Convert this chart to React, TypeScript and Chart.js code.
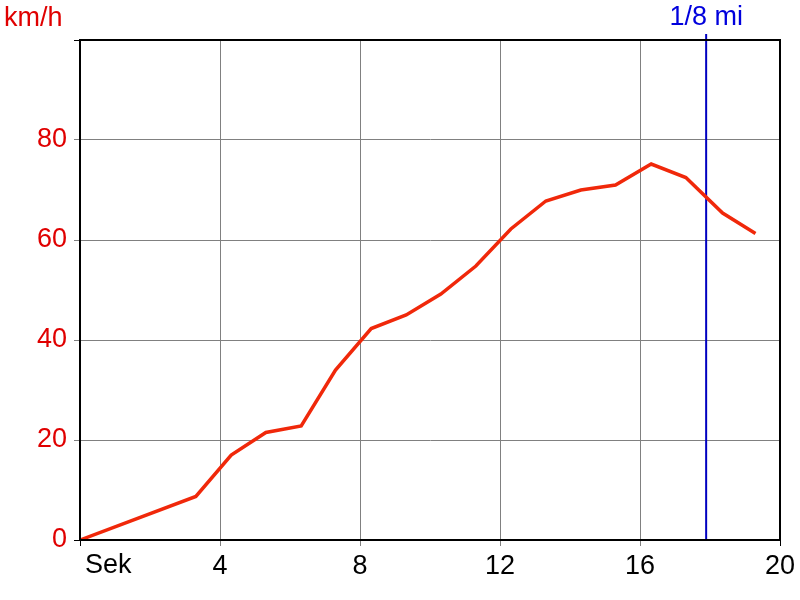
import React, { useEffect, useRef } from "react";
import { Chart, registerables } from "chart.js";

Chart.register(...registerables);

const seconds = [0, 3.31, 4.32, 5.31, 6.32, 7.3, 8.32, 9.32, 10.31, 11.31, 12.31, 13.31, 14.31, 15.3, 16.32, 17.31, 18.36, 19.3];
const speedKmh = [0, 8.7, 17, 21.5, 22.8, 34, 42.3, 45, 49.2, 54.8, 62.2, 67.8, 70, 71, 75.2, 72.5, 65.4, 61.3];
const eighthMileTime = 17.89;
const eighthMileLabel = "1/8 mi";
const yTicks = [0, 20, 40, 60, 80];
const xTicks = [0, 4, 8, 12, 16, 20];
const yUnit = "km/h";
const xUnit = "Sek";

const FONT = "'Liberation Sans', Arial, sans-serif";
const FS = 27;

export default function App() {
  const ref = useRef<HTMLCanvasElement>(null);
  useEffect(() => {
    document.body.style.margin = "0";
    const canvas = ref.current!;
    const overlay = {
      id: "overlay",
      afterDraw(chart: any) {
        const { ctx, chartArea, scales } = chart;
        ctx.save();
        ctx.strokeStyle = "#000";
        ctx.lineWidth = 2;
        ctx.strokeRect(chartArea.left, chartArea.top, chartArea.right - chartArea.left, chartArea.bottom - chartArea.top);
        ctx.font = `${FS}px ${FONT}`;
        ctx.textBaseline = "middle";
        ctx.fillStyle = "#e00000";
        ctx.textAlign = "left";
        ctx.fillText(yUnit, 4, 19);
        ctx.fillStyle = "#000";
        ctx.fillText(xUnit, scales.x.getPixelForValue(0) + 5, 566);
        ctx.fillStyle = "#0000dd";
        ctx.textAlign = "center";
        ctx.fillText(eighthMileLabel, scales.x.getPixelForValue(eighthMileTime), 18);
        ctx.restore();
      },
    };
    const chart = new Chart(canvas, {
      type: "scatter",
      data: {
        datasets: [
          {
            data: seconds.map((s, i) => ({ x: s, y: speedKmh[i] })),
            showLine: true,
            borderColor: "rgb(240,40,10)",
            borderWidth: 3.5,
            pointRadius: 0,
            borderJoinStyle: "miter",
            order: 1,
          },
          {
            data: [
              { x: eighthMileTime, y: 0 },
              { x: eighthMileTime, y: 101.2 },
            ],
            showLine: true,
            borderColor: "#0000c0",
            borderWidth: 2,
            pointRadius: 0,
            clip: false,
            order: 2,
          },
        ],
      },
      options: {
        animation: false,
        responsive: false,
        events: [],
        layout: { padding: { left: 0, top: 40, right: 20, bottom: 0 } },
        plugins: { legend: { display: false }, tooltip: { enabled: false } },
        scales: {
          x: {
            type: "linear",
            min: 0,
            max: 20,
            afterFit: (s: any) => { s.height = 60; },
            afterBuildTicks: (s: any) => { s.ticks = xTicks.map((v) => ({ value: v })); },
            grid: {
              color: (c: any) => (c.tick && (c.tick.value === 0 || c.tick.value === 20) ? "#000" : "#808080"),
              lineWidth: 1,
              tickLength: 6,
            },
            border: { display: true, color: "#000", width: 2 },
            ticks: {
              color: "#000",
              font: { family: FONT, size: FS },
              padding: 4,
              maxRotation: 0,
              callback: (v: any) => (v === 0 ? "" : String(v)),
            },
          },
          y: {
            type: "linear",
            min: 0,
            max: 100,
            afterFit: (s: any) => { s.width = 80; },
            afterBuildTicks: (s: any) => { s.ticks = [...yTicks, 100].map((v) => ({ value: v })); },
            grid: {
              color: (c: any) => (c.tick && (c.tick.value === 0 || c.tick.value === 100) ? "#000" : "#808080"),
              lineWidth: 1,
              tickLength: 6,
            },
            border: { display: true, color: "#000", width: 2 },
            ticks: {
              color: "#e00000",
              font: { family: FONT, size: FS },
              padding: 7,
              callback: (v: any) => (v === 100 ? "" : String(v)),
            },
          },
        },
      },
      plugins: [overlay],
    } as any);
    return () => chart.destroy();
  }, []);
  return (
    <div style={{ position: "absolute", left: 0, top: 0, width: 800, height: 600, background: "#fff" }}>
      <canvas ref={ref} width={800} height={600} />
    </div>
  );
}
